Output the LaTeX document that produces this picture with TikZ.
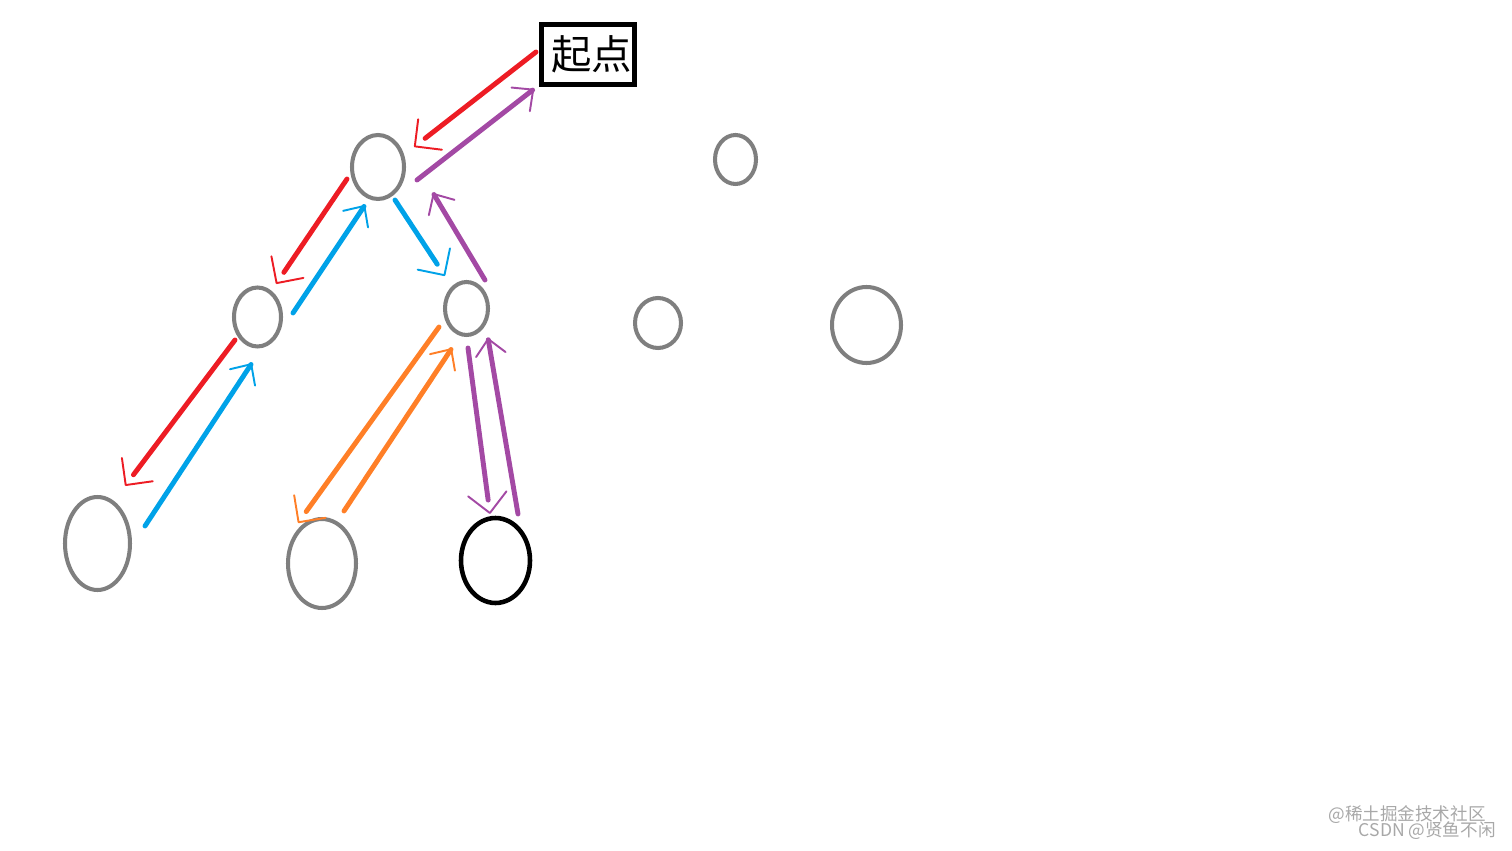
\documentclass[tikz,border=0pt]{standalone}
\usepackage{fontspec}
\newfontfamily\cjk{Noto Sans CJK SC}
\usepackage{xcolor}
\usetikzlibrary{
    arrows.meta,
    shapes.geometric,
    decorations.markings
}
\definecolor{paintgray}{RGB}{127,127,127}
\definecolor{paintred}{RGB}{237,28,36}
\definecolor{paintblue}{RGB}{0,162,232}
\definecolor{paintpurple}{RGB}{163,73,164}
\definecolor{paintorange}{RGB}{255,127,39}
\definecolor{markgray}{RGB}{168,168,168}

\begin{document}
\begin{tikzpicture}[
    x=0.02cm, y=-0.02cm,
    vertex/.style={ellipse, draw=paintgray, line width=2.3pt, inner sep=0pt},
    headtip/.style 2 args={
        postaction={
            decorate,
            decoration={
                markings,
                mark=at position 1 with {\arrow{Straight Barb[length=#1, width=#2, line width=1.1pt, round]}}
            }
        }
    },
    descend/.style={line width=2.8pt, line cap=round, shorten >=8pt, headtip={11pt}{22pt}},
    backtrack/.style={line width=2.8pt, line cap=round, shorten >=1pt, headtip={9pt}{17pt}}
]
    \useasboundingbox (0,0) rectangle (1512,851);
    \node[draw, line width=2.8pt, minimum width=1.86cm, minimum height=1.2cm, inner sep=0pt, font=\cjk\fontsize{23pt}{23pt}\selectfont] (start) at (588,54.5) {\hspace{4pt}起点};
    \node[vertex, minimum width=1.04cm, minimum height=1.28cm] (n1) at (378,167) {};
    \node[vertex, minimum width=0.82cm, minimum height=0.98cm] (n2) at (735.5,159.5) {};
    \node[vertex, minimum width=0.94cm, minimum height=1.18cm] (l) at (257.5,317) {};
    \node[vertex, minimum width=0.86cm, minimum height=1.06cm] (m) at (466.5,308.5) {};
    \node[vertex, minimum width=0.92cm, minimum height=1.00cm] (r1) at (658,323) {};
    \node[vertex, minimum width=1.38cm, minimum height=1.52cm] (r2) at (866.5,325) {};
    \node[vertex, minimum width=1.30cm, minimum height=1.86cm] (ll) at (97.5,543.5) {};
    \node[vertex, minimum width=1.36cm, minimum height=1.78cm] (lm) at (322,563.5) {};
    \node[vertex, draw=black, line width=2.6pt, minimum width=1.38cm, minimum height=1.70cm] (lr) at (495.5,560.5) {};
    \draw[descend, paintred] ([shift={(-52,-2.5)}]start.center) -- ([shift={(36,-20)}]n1.center);
    \draw[backtrack, paintpurple] ([shift={(39,13)}]n1.center) -- ([shift={(-54,34.5)}]start.center);
    \draw[descend, paintred] ([shift={(-31,12)}]n1.center) -- ([shift={(18.5,-33)}]l.center);
    \draw[backtrack, paintblue] ([shift={(35.5,-4)}]l.center) -- ([shift={(-13,38)}]n1.center);
    \draw[descend, paintblue] ([shift={(17,33)}]n1.center) -- ([shift={(-21.5,-32.5)}]m.center);
    \draw[backtrack, paintpurple] ([shift={(18.5,-28.5)}]m.center) -- ([shift={(55,26)}]n1.center);
    \draw[descend, paintred] ([shift={(-22.5,23)}]l.center) -- ([shift={(27.5,-57.5)}]ll.center);
    \draw[backtrack, paintblue] ([shift={(47.5,-17.5)}]ll.center) -- ([shift={(-5.5,46)}]l.center);
    \draw[descend, paintorange] ([shift={(-27.5,18.5)}]m.center) -- ([shift={(-24,-40.5)}]lm.center);
    \draw[backtrack, paintorange] ([shift={(22,-52.5)}]lm.center) -- ([shift={(-14.5,39.5)}]m.center);
    \draw[descend, paintpurple] ([shift={(1.5,39.5)}]m.center) -- ([shift={(-5.5,-46.5)}]lr.center);
    \draw[backtrack, paintpurple] ([shift={(22.5,-46.5)}]lr.center) -- ([shift={(21.5,29.5)}]m.center);
    \node[anchor=east, inner sep=0pt, text=markgray, font=\cjk\fontsize{10pt}{10pt}\selectfont] (mark1) at (1486,815) {@稀土掘金技术社区};
    \node[anchor=east, inner sep=0pt, text=markgray, font=\cjk\fontsize{10pt}{10pt}\selectfont] (mark2) at (1496,831) {CSDN @贤鱼不闲};
\end{tikzpicture}
\end{document}
